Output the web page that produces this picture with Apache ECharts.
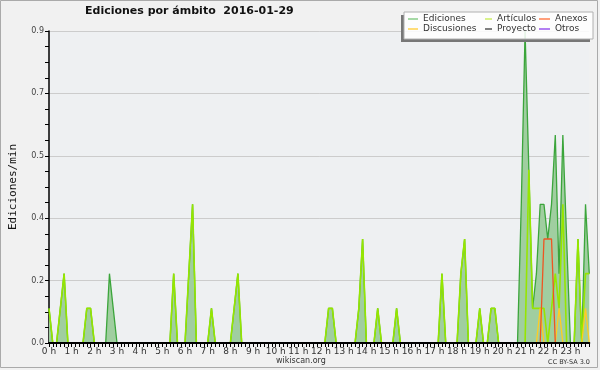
<!DOCTYPE html>
<html><head><meta charset="utf-8">
<script src="https://cdn.jsdelivr.net/npm/echarts@6/dist/echarts.min.js"></script>
<style>html,body{margin:0;padding:0;background:#f1f1f1}#c{width:600px;height:370px}</style>
</head><body><div id="c"></div>
<script>
const hourLabels = ['0 h','1 h','2 h','3 h','4 h','5 h','6 h','7 h','8 h','9 h','10 h','11 h',
  '12 h','13 h','14 h','15 h','16 h','17 h','18 h','19 h','20 h','21 h','22 h','23 h'];
const yTicks = [0, 0.18, 0.36, 0.54, 0.72, 0.9];
// 10-minute bins, edits per minute
const ediciones = [
  0.1,0,0,0.1,0.2,0,0,0,0,0,0.1,0.1,
  0,0,0,0,0.2,0.1,0,0,0,0,0,0,
  0,0,0,0,0,0,0,0,0,0.2,0,0,
  0,0.2,0.4,0,0,0,0,0.1,0,0,0,0,
  0,0.1,0.2,0,0,0,0,0,0,0,0,0,
  0,0,0,0,0,0,0,0,0,0,0,0,
  0,0,0.1,0.1,0,0,0,0,0,0,0.1,0.3,
  0,0,0,0.1,0,0,0,0,0.1,0,0,0,
  0,0,0,0,0,0,0,0,0.2,0,0,0,
  0,0.2,0.3,0,0,0,0.1,0,0,0.1,0.1,0,
  0,0,0,0,0,0.4,0.9,0.5,0.1,0.2,0.4,0.4,
  0.3,0.4,0.6,0.2,0.6,0.3,0,0,0.3,0,0.4,0.2
];
const articulos = [
  0.1,0,0,0.1,0.2,0,0,0,0,0,0.1,0.1,
  0,0,0,0,0,0,0,0,0,0,0,0,
  0,0,0,0,0,0,0,0,0,0.2,0,0,
  0,0.2,0.4,0,0,0,0,0.1,0,0,0,0,
  0,0.1,0.2,0,0,0,0,0,0,0,0,0,
  0,0,0,0,0,0,0,0,0,0,0,0,
  0,0,0.1,0.1,0,0,0,0,0,0,0.1,0.3,
  0,0,0,0.1,0,0,0,0,0.1,0,0,0,
  0,0,0,0,0,0,0,0,0.2,0,0,0,
  0,0.2,0.3,0,0,0,0.1,0,0,0.1,0.1,0,
  0,0,0,0,0,0,0,0.5,0.1,0.1,0.1,0.1,
  0,0.1,0.2,0.1,0.4,0,0,0,0.3,0,0.2,0.2
];
const anexos = [
  0,0,0,0,0,0,0,0,0,0,0,0,  0,0,0,0,0,0,0,0,0,0,0,0,
  0,0,0,0,0,0,0,0,0,0,0,0,  0,0,0,0,0,0,0,0,0,0,0,0,
  0,0,0,0,0,0,0,0,0,0,0,0,  0,0,0,0,0,0,0,0,0,0,0,0,
  0,0,0,0,0,0,0,0,0,0,0,0,  0,0,0,0,0,0,0,0,0,0,0,0,
  0,0,0,0,0,0,0,0,0,0,0,0,  0,0,0,0,0,0,0,0,0,0,0,0,
  0,0,0,0,0,0,0,0,0,0,0,0.3,
  0.3,0.3,0,0,0,0,0,0,0,0,0,0
];
const discusiones = [
  0,0,0,0,0,0,0,0,0,0,0,0,  0,0,0,0,0,0,0,0,0,0,0,0,
  0,0,0,0,0,0,0,0,0,0,0,0,  0,0,0,0,0,0,0,0,0,0,0,0,
  0,0,0,0,0,0,0,0,0,0,0,0,  0,0,0,0,0,0,0,0,0,0,0,0,
  0,0,0,0,0,0,0,0,0,0,0,0,  0,0,0,0,0,0,0,0,0,0,0,0,
  0,0,0,0,0,0,0,0,0,0,0,0,  0,0,0,0,0,0,0,0,0,0,0,0,
  0,0,0,0,0,0,0,0,0,0,0.1,0,
  0,0,0,0.1,0,0,0,0,0,0,0.1,0
];
const proyecto = [
  0,0,0,0,0,0,0,0,0,0,0,0,  0,0,0,0,0,0,0,0,0,0,0,0,
  0,0,0,0,0,0,0,0,0,0,0,0,  0,0,0,0,0,0,0,0,0,0,0,0,
  0,0,0,0,0,0,0,0,0,0,0,0,  0,0,0,0,0,0,0,0,0,0,0,0,
  0,0,0,0,0,0,0,0,0,0,0,0,  0,0,0,0,0,0,0,0,0,0,0,0,
  0,0,0,0,0,0,0,0,0,0,0,0,  0,0,0,0,0,0,0,0,0,0,0,0,
  0,0,0,0,0,0,0,0,0,0,0,0,  0,0,0,0,0,0,0,0,0,0,0,0
];
const otros = [
  0,0,0,0,0,0,0,0,0,0,0,0,  0,0,0,0,0,0,0,0,0,0,0,0,
  0,0,0,0,0,0,0,0,0,0,0,0,  0,0,0,0,0,0,0,0,0,0,0,0,
  0,0,0,0,0,0,0,0,0,0,0,0,  0,0,0,0,0,0,0,0,0,0,0,0,
  0,0,0,0,0,0,0,0,0,0,0,0,  0,0,0,0,0,0,0,0,0,0,0,0,
  0,0,0,0,0,0,0,0,0,0,0,0,  0,0,0,0,0,0,0,0,0,0,0,0,
  0,0,0,0,0,0,0,0,0,0,0,0,  0,0,0,0,0,0,0,0,0,0,0,0
];

const categories = [];
hourLabels.forEach((h, hi) => { for (let m = 0; m < 6; m++) categories.push(hi + ':' + m + '0'); });

const F = 'DejaVu Sans';
const chart = echarts.init(document.getElementById('c'), null, {renderer: 'canvas'});
function legendCol(left, itemWidth, items, colors) {
  return {
    left: left, top: 14, orient: 'vertical', itemGap: 0, itemWidth: itemWidth, itemHeight: 1.5,
    padding: 0, icon: 'rect', z: 20, selectedMode: false,
    textStyle: {fontFamily: F, fontSize: 9, color: '#333', lineHeight: 10},
    data: items.map((n, i) => ({name: n, itemStyle: {color: colors[i]}}))
  };
}
function line(name, data, color, width, z) {
  return {name, type: 'line', data, symbol: 'none', z: z, silent: true,
    lineStyle: {color, width}, itemStyle: {color}};
}
chart.setOption({
  animation: false,
  backgroundColor: '#f1f1f1',
  title: {text: 'Ediciones por ámbito  2016-01-29', left: 85, top: 6, padding: 0,
    textStyle: {fontFamily: F, fontSize: 11, fontWeight: 'bold', color: '#111'}},
  grid: {left: 46, right: 10.7, top: 31, bottom: 27, show: true, backgroundColor: '#eef0f2', borderWidth: 0},
  legend: [
    legendCol(408, 10, ['Ediciones', 'Discusiones'], ['#88cc88', '#ffd24d']),
    legendCol(485, 7, ['Artículos', 'Proyecto'], ['#ccee66', '#555555']),
    legendCol(539, 11, ['Anexos', 'Otros'], ['#ff7f4f', '#9955ee'])
  ],
  xAxis: {
    type: 'category', data: categories, boundaryGap: false, z: 10,
    axisLine: {lineStyle: {color: '#000', width: 2}},
    axisTick: {interval: 0, length: 4, lineStyle: {color: '#000', width: 1}},
    axisLabel: {interval: 5, margin: 4, fontFamily: F, fontSize: 9, color: '#333',
      formatter: (v, i) => hourLabels[Math.floor(i / 6)]},
    splitLine: {show: false}
  },
  yAxis: {
    type: 'value', min: 0, max: 0.9, interval: 0.18,
    name: 'Ediciones/min', nameLocation: 'middle', nameGap: 30, nameRotate: 90,
    nameTextStyle: {fontFamily: 'DejaVu Sans Mono', fontSize: 11, color: '#111'},
    axisLine: {show: true, lineStyle: {color: '#000', width: 1.5}},
    axisTick: {show: true, length: 4, lineStyle: {color: '#000'}},
    minorTick: {show: true, splitNumber: 4, length: 4, lineStyle: {color: '#000'}},
    axisLabel: {margin: 5, fontFamily: F, fontSize: 8, color: '#444', formatter: v => v.toFixed(1)},
    splitLine: {lineStyle: {color: '#cccccc', width: 1}}
  },
  series: [
    Object.assign(line('Ediciones', ediciones, '#3ba53b', 1.3, 2), {areaStyle: {color: '#a0cea0', opacity: 1}}),
    line('Proyecto', proyecto, '#555555', 1, 3),
    line('Otros', otros, '#9955ee', 1, 3),
    line('Artículos', articulos, '#96e600', 1.6, 4),
    line('Discusiones', discusiones, '#ffcc22', 1.3, 5),
    line('Anexos', anexos, '#ee5522', 1.3, 6)
  ],
  graphic: [
    {type: 'rect', z: -1, silent: true, shape: {x: 0.5, y: 0.5, width: 597, height: 367},
      style: {fill: 'none', stroke: '#aaaaaa', lineWidth: 1}},
    {type: 'polygon', z: 18, silent: true,
      shape: {points: [[401, 15], [404, 15], [404, 39], [590, 39], [590, 42], [401, 42]]},
      style: {fill: '#777777'}},
    {type: 'rect', z: 19, silent: true, shape: {x: 404, y: 12, width: 189, height: 27},
      style: {fill: 'rgba(255,255,255,0.86)', stroke: '#b0b0b0', lineWidth: 1}},
    {type: 'text', left: 276, top: 357, silent: true,
      style: {text: 'wikiscan.org', fontFamily: F, fontSize: 8, fill: '#333'}},
    {type: 'text', right: 10, top: 359, silent: true,
      style: {text: 'CC BY-SA 3.0', fontFamily: F, fontSize: 6.5, fill: '#333'}}
  ]
});
</script></body></html>
